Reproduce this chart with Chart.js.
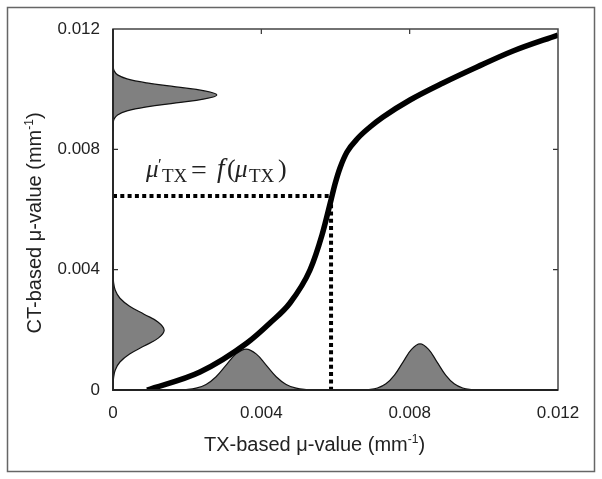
<!DOCTYPE html>
<html>
<head>
<meta charset="utf-8">
<title>Curva de conversion TX - CT</title>
<script src="https://cdn.jsdelivr.net/npm/chart.js@4.4.0/dist/chart.umd.min.js"></script>
<style>
body{margin:0;background:#fff;}
#contenedor{width:602px;height:479px;}
</style>
</head>
<body>
<div id="contenedor"><canvas id="grafico" width="602" height="479"></canvas></div>
<script>
//	Datos (mm-1)

//	ticks de ambos ejes
var TicksEjes=[0,0.004,0.008,0.012];

//	curva de conversion f(mu_TX)
var CurvaX=[0.00092,0.002346,0.003613,0.004234,0.004773,0.005312,0.005636,0.005879,0.005987,0.006121,0.00631,0.006607,0.00693,0.007281,0.008009,0.008899,0.009816,0.010787,0.012];
var CurvaY=[0,0.000598,0.001562,0.002227,0.002892,0.003989,0.005152,0.006316,0.006848,0.00738,0.007911,0.008377,0.008742,0.009075,0.00964,0.010205,0.010737,0.011269,0.011801];

//	linea de puntos (mu_TX, mu'_TX)
var PuntosX=[0,0.00588,0.00588];
var PuntosY=[0.00645,0.00645,0];

//	histograma TX, primer pico (sobre eje X)
var HistA_X=[0.0012,0.0017,0.00197,0.00224,0.00251,0.00278,0.00305,0.00332,0.00359,0.00386,0.00413,0.0044,0.00467,0.00494,0.00521,0.00548,0.006];
var HistA_Y=[0,0.000003,0.000015,0.00006,0.000184,0.000442,0.000825,0.0012,0.00136,0.0012,0.000825,0.000442,0.000184,0.00006,0.000015,0.000003,0];

//	histograma TX, segundo pico (sobre eje X)
var HistB_X=[0.0062,0.00667,0.0069,0.00713,0.00736,0.00759,0.00782,0.00805,0.00828,0.00851,0.00874,0.00897,0.0092,0.00943,0.00966,0.00989,0.0104];
var HistB_Y=[0,0.000003,0.000017,0.000067,0.000207,0.000497,0.000928,0.00135,0.00153,0.00135,0.000928,0.000497,0.000207,0.000067,0.000017,0.000003,0];

//	histograma CT, pico alto (sobre eje Y)
var HistC_Y=[0.0086,0.00888,0.009012,0.009145,0.009278,0.009411,0.009544,0.009677,0.00981,0.009943,0.010076,0.010209,0.010342,0.010475,0.010608,0.010741,0.011];
var HistC_X=[0,0.000006,0.000031,0.000123,0.000379,0.000909,0.0017,0.00247,0.0028,0.00247,0.0017,0.000909,0.000379,0.000123,0.000031,0.000006,0];

//	histograma CT, pico bajo (sobre eje Y)
var HistD_Y=[0,0.000135,0.0004,0.000665,0.00093,0.001195,0.00146,0.001725,0.00199,0.002255,0.00252,0.002785,0.00305,0.003315,0.00358,0.003845,0.0043];
var HistD_X=[0,0.000003,0.000015,0.000061,0.000187,0.000448,0.000837,0.00122,0.00138,0.00122,0.000837,0.000448,0.000187,0.000061,0.000015,0.000003,0];


//	Junta dos arrays en puntos {x,y}
function Puntos(Xs, Ys)
{
	var Res=[];
	for (var i=0;i<Xs.length;++i)
		Res.push({x:Xs[i], y:Ys[i]});
	return Res;
}

var FuenteSans='"Liberation Sans", Arial, sans-serif';
var FuenteSerif='"Liberation Serif", "DejaVu Serif", serif';

//	Texto con exponente, tipo "(mm-1)"
function AnchoTitulo(ctx, Base, Exp, Cierre)
{
	ctx.font='20px '+FuenteSans;
	var w=ctx.measureText(Base).width+ctx.measureText(Cierre).width;
	ctx.font='12px '+FuenteSans;
	return w+ctx.measureText(Exp).width;
}

function DibujaTitulo(ctx, Base, Exp, Cierre, x, y)
{
	ctx.textAlign='left';
	ctx.textBaseline='alphabetic';
	ctx.fillStyle='#222';
	ctx.font='20px '+FuenteSans;
	ctx.fillText(Base, x, y);
	x+=ctx.measureText(Base).width;
	ctx.font='12px '+FuenteSans;
	ctx.fillText(Exp, x, y-8);
	x+=ctx.measureText(Exp).width;
	ctx.font='20px '+FuenteSans;
	ctx.fillText(Cierre, x, y);
}

//	Marco exterior, caja del grafico, ticks interiores, titulos y formula
var PluginMarcos={
	id:'marcos',
	beforeDraw:function(chart)
	{
		var ctx=chart.ctx;
		ctx.save();
		ctx.fillStyle='#fff';
		ctx.fillRect(0,0,chart.width,chart.height);
		ctx.restore();
	},
	beforeDatasetsDraw:function(chart)
	{
		var ctx=chart.ctx, ca=chart.chartArea, sx=chart.scales.x, sy=chart.scales.y;
		ctx.save();
		ctx.strokeStyle='#333';
		ctx.lineWidth=1.2;
		ctx.beginPath();
		for (var i=1;i<TicksEjes.length-1;++i)
		{
			var px=sx.getPixelForValue(TicksEjes[i]);
			ctx.moveTo(px,ca.top); ctx.lineTo(px,ca.top+5);
			ctx.moveTo(px,ca.bottom); ctx.lineTo(px,ca.bottom-5);
			var py=sy.getPixelForValue(TicksEjes[i]);
			ctx.moveTo(ca.left,py); ctx.lineTo(ca.left+5,py);
			ctx.moveTo(ca.right,py); ctx.lineTo(ca.right-5,py);
		}
		ctx.stroke();
		ctx.restore();
	},
	afterDatasetsDraw:function(chart)
	{
		var ctx=chart.ctx, ca=chart.chartArea;
		ctx.save();
		ctx.strokeStyle='#444';
		ctx.lineWidth=1.5;
		ctx.strokeRect(ca.left,ca.top,ca.right-ca.left,ca.bottom-ca.top);
		ctx.strokeStyle='#222';
		ctx.lineWidth=1.8;
		ctx.beginPath();
		ctx.moveTo(ca.left,ca.top); ctx.lineTo(ca.left,ca.bottom); ctx.lineTo(ca.right,ca.bottom);
		ctx.stroke();
		ctx.restore();
	},
	afterDraw:function(chart)
	{
		var ctx=chart.ctx;
		ctx.save();

		//	marco exterior
		ctx.strokeStyle='#666';
		ctx.lineWidth=1.5;
		ctx.strokeRect(7.5,7.5,587,464);

		//	titulo eje X
		var w=AnchoTitulo(ctx,'TX-based \u03bc-value (mm','-1',')');
		DibujaTitulo(ctx,'TX-based \u03bc-value (mm','-1',')',314.5-w/2,451);

		//	titulo eje Y, girado
		w=AnchoTitulo(ctx,'CT-based \u03bc-value (mm','-1',')');
		ctx.translate(41,223);
		ctx.rotate(-Math.PI/2);
		DibujaTitulo(ctx,'CT-based \u03bc-value (mm','-1',')',-w/2,0);
		ctx.restore();

		//	formula mu'_TX = f(mu_TX)
		ctx.save();
		ctx.fillStyle='#222';
		ctx.textAlign='left';
		ctx.textBaseline='alphabetic';
		ctx.font='italic 25px '+FuenteSerif;
		ctx.fillText('\u03bc',146,177);
		ctx.font='17px '+FuenteSerif;
		ctx.fillText('\u2032',158,170);
		ctx.font='19px '+FuenteSerif;
		ctx.fillText('TX',162,182);
		ctx.font='28px '+FuenteSerif;
		ctx.fillText('=',191,179);
		ctx.font='italic 27px '+FuenteSerif;
		ctx.fillText('f',217,177);
		ctx.font='26px '+FuenteSerif;
		ctx.fillText('(',227,177);
		ctx.font='italic 25px '+FuenteSerif;
		ctx.fillText('\u03bc',235,177);
		ctx.font='19px '+FuenteSerif;
		ctx.fillText('TX',249,182);
		ctx.font='26px '+FuenteSerif;
		ctx.fillText(')',278,177);
		ctx.restore();
	}
};


//	Prepara el grafico
function PresentaGrafico()
{
	var ctx=document.getElementById('grafico').getContext('2d');

	var Datasets=[];
	Datasets.push({data:Puntos(CurvaX,CurvaY), showLine:true, borderColor:'#000', borderWidth:5.5,
		pointRadius:0, cubicInterpolationMode:'monotone', borderCapStyle:'butt', fill:false});
	Datasets.push({data:Puntos(PuntosX,PuntosY), showLine:true, borderColor:'#000', borderWidth:4,
		borderDash:[4,3.3], pointRadius:0, tension:0, fill:false});
	Datasets.push({data:Puntos(HistA_X,HistA_Y), showLine:true, borderColor:'#111', borderWidth:1.2,
		backgroundColor:'#808080', pointRadius:0, tension:0.4, fill:'origin'});
	Datasets.push({data:Puntos(HistB_X,HistB_Y), showLine:true, borderColor:'#111', borderWidth:1.2,
		backgroundColor:'#808080', pointRadius:0, tension:0.4, fill:'origin'});
	Datasets.push({data:Puntos(HistC_X,HistC_Y), showLine:true, borderColor:'#111', borderWidth:1.2,
		backgroundColor:'#808080', pointRadius:0, tension:0.4, fill:'shape'});
	Datasets.push({data:Puntos(HistD_X,HistD_Y), showLine:true, borderColor:'#111', borderWidth:1.2,
		backgroundColor:'#808080', pointRadius:0, tension:0.4, fill:'shape'});

	var EstiloTicks={color:'#222', font:{family:FuenteSans, size:17}};

	new Chart(ctx, {
		type:'scatter',
		data:{datasets:Datasets},
		plugins:[PluginMarcos],
		options:{
			responsive:false,
			animation:false,
			devicePixelRatio:1,
			layout:{padding:{left:0, right:44, top:29, bottom:0}},
			plugins:{legend:{display:false}, tooltip:{enabled:false}},
			scales:{
				x:{
					type:'linear', min:0, max:0.012,
					grid:{display:false, drawTicks:false},
					border:{display:false},
					afterFit:function(s){ s.height=89; },
					afterBuildTicks:function(s){ s.ticks=TicksEjes.map(function(v){ return {value:v}; }); },
					ticks:{color:EstiloTicks.color, font:EstiloTicks.font, padding:13, maxRotation:0,
						callback:function(v){ return v===0 ? '0' : v.toFixed(3); }}
				},
				y:{
					type:'linear', min:0, max:0.012,
					grid:{display:false, drawTicks:false},
					border:{display:false},
					afterFit:function(s){ s.width=113; },
					afterBuildTicks:function(s){ s.ticks=TicksEjes.map(function(v){ return {value:v}; }); },
					ticks:{color:EstiloTicks.color, font:EstiloTicks.font, padding:13,
						callback:function(v){ return v===0 ? '0' : v.toFixed(3); }}
				}
			}
		}
	});
}

PresentaGrafico();
</script>
</body>
</html>
